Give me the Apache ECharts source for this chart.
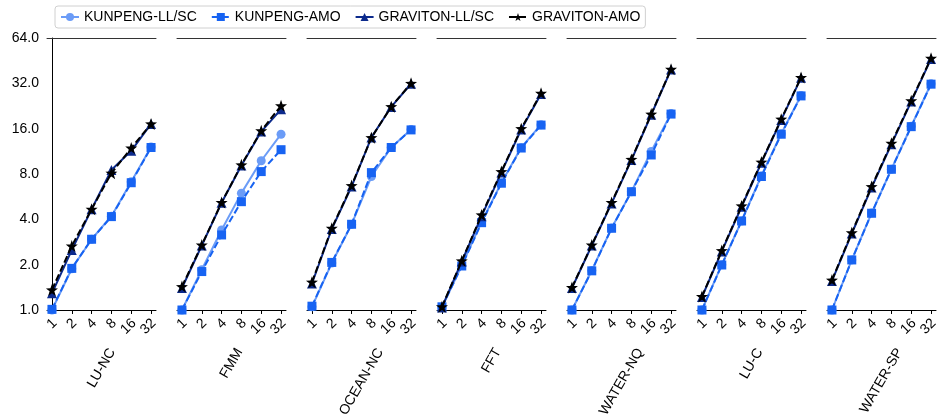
<!DOCTYPE html>
<html>
<head>
<meta charset="utf-8">
<script src="https://cdn.jsdelivr.net/npm/echarts@6/dist/echarts.min.js"></script>
<style>html,body{margin:0;padding:0;background:#fff}#c{width:938px;height:419px}</style>
</head>
<body>
<div id="c"></div>
<script>
const threads = ['1', '2', '4', '8', '16', '32'];
const benchmarks = ['LU-NC', 'FMM', 'OCEAN-NC', 'FFT', 'WATER-NQ', 'LU-C', 'WATER-SP'];
const yTicks = [1, 2, 4, 8, 16, 32, 64];
const seriesNames = ['KUNPENG-LL/SC', 'KUNPENG-AMO', 'GRAVITON-LL/SC', 'GRAVITON-AMO'];

const kunpengLlsc = [
  [1.0, 1.88, 2.95, 4.2, 7.1, 12.1],
  [1.0, 1.85, 3.4, 5.97, 9.8, 14.7],
  [1.05, 2.05, 3.7, 7.7, 12.0, 15.8],
  [1.04, 1.98, 3.85, 7.0, 12.0, 17.0],
  [1.0, 1.83, 3.5, 6.1, 11.3, 20.2],
  [1.0, 2.0, 3.9, 7.8, 14.8, 26.6],
  [1.0, 2.15, 4.4, 8.6, 16.6, 31.8]
];
const kunpengAmo = [
  [1.01, 1.89, 2.95, 4.17, 7.0, 12.0],
  [1.0, 1.8, 3.15, 5.24, 8.3, 11.6],
  [1.06, 2.07, 3.71, 8.17, 12.0, 15.7],
  [1.05, 1.96, 3.8, 6.95, 11.9, 16.9],
  [1.0, 1.82, 3.49, 6.1, 10.7, 20.0],
  [1.0, 1.99, 3.9, 7.7, 14.7, 26.4],
  [1.0, 2.15, 4.39, 8.6, 16.5, 31.6]
];
const gravitonLlsc = [
  [1.29, 2.5, 4.67, 8.5, 11.4, 17.2],
  [1.4, 2.68, 5.15, 9.1, 15.3, 21.5],
  [1.5, 3.45, 6.6, 14.0, 22.3, 31.8],
  [1.04, 2.1, 4.2, 8.2, 15.8, 27.2],
  [1.4, 2.68, 5.1, 9.9, 19.8, 39.5],
  [1.22, 2.45, 4.85, 9.5, 18.3, 34.8],
  [1.56, 3.22, 6.5, 12.6, 24.2, 46.5]
];
const gravitonAmo = [
  [1.36, 2.66, 4.67, 8.1, 11.9, 17.2],
  [1.43, 2.7, 5.17, 9.2, 15.5, 22.7],
  [1.53, 3.49, 6.7, 13.95, 22.4, 32.0],
  [1.05, 2.12, 4.28, 8.3, 16.0, 27.5],
  [1.41, 2.7, 5.17, 10.0, 20.0, 39.7],
  [1.23, 2.48, 4.91, 9.6, 18.5, 35.0],
  [1.58, 3.26, 6.6, 12.8, 24.5, 47.0]
];

const FONT = '"Liberation Sans", Arial, Helvetica, sans-serif';
const STAR = 'path://M50,0 L62,34 L98,35 L69,57 L80,92 L50,71 L20,92 L31,57 L2,35 L38,34 Z';
const styles = [
  { color: '#6b9cf7', symbol: 'circle', size: 9, type: 'solid', data: kunpengLlsc },
  { color: '#1763f2', symbol: 'rect', size: 9, type: [7, 3], data: kunpengAmo },
  { color: '#0c2a8c', symbol: 'triangle', size: 10, type: 'solid', data: gravitonLlsc },
  { color: '#000000', symbol: STAR, size: 12, type: [7, 3], data: gravitonAmo }
];

const measureCtx = document.createElement('canvas').getContext('2d');
measureCtx.font = '14px "Liberation Sans"';

const P_LEFT = 47, P_STEP = 130, P_W = 109, P_TOP = 38, P_H = 272;
const grids = [], xAxes = [], yAxes = [], series = [];
benchmarks.forEach((b, i) => {
  grids.push({ left: P_LEFT + P_STEP * i, top: P_TOP, width: P_W, height: P_H, outerBoundsMode: 'none', containLabel: false });
  const L = measureCtx.measureText(b).width;
  const gap = 36 + (0.866 * L + 0.5 * 14) / 2;
  xAxes.push({
    type: 'value', gridIndex: i, min: -0.25, max: 5.25, position: 'bottom',
    name: b, nameLocation: 'middle', nameRotate: 60, nameGap: gap, nameMoveOverlap: false,
    nameTextStyle: { fontFamily: FONT, fontSize: 14, color: '#000', align: 'center', verticalAlign: 'middle' },
    axisLine: { show: true, onZero: false, lineStyle: { color: '#000', width: 1 } },
    axisTick: { show: true, length: 4, customValues: threads.map((t, j) => j), lineStyle: { color: '#000' } },
    axisLabel: { show: true, rotate: 45, margin: 4, align: 'right', verticalAlign: 'top', padding: [0, 3, 0, 0],
      fontFamily: FONT, fontSize: 14, color: '#000',
      customValues: threads.map((t, j) => j), formatter: v => threads[Math.round(v)] },
    splitLine: { show: false }
  });
  yAxes.push({
    type: 'log', logBase: 2, gridIndex: i, min: yTicks[0], max: yTicks[yTicks.length - 1],
    axisLine: { show: i === 0, lineStyle: { color: '#000', width: 1 } },
    axisTick: { show: false },
    axisLabel: { show: i === 0, margin: 8, fontFamily: FONT, fontSize: 14, color: '#000',
      customValues: yTicks, formatter: v => Number(v).toFixed(1) },
    splitLine: { show: false }
  });
  styles.forEach((s, k) => {
    series.push({
      type: 'line', name: seriesNames[k], xAxisIndex: i, yAxisIndex: i,
      data: s.data[i].map((v, j) => [j, v]),
      symbol: s.symbol, symbolSize: s.size, showSymbol: true,
      lineStyle: { color: s.color, width: 2, type: s.type },
      itemStyle: { color: s.color },
      z: 2 + k, animation: false, silent: true
    });
  });
});
benchmarks.forEach((b, i) => {
  xAxes.push({
    type: 'value', gridIndex: i, min: -0.25, max: 5.25, position: 'top',
    axisLine: { show: true, onZero: false, lineStyle: { color: '#333', width: 1 } },
    axisTick: { show: false }, axisLabel: { show: false }, splitLine: { show: false }
  });
});

const chart = echarts.init(document.getElementById('c'), null, { renderer: 'canvas' });
chart.setOption({
  animation: false,
  backgroundColor: '#fff',
  legend: {
    data: seriesNames, left: 55, top: 6, orient: 'horizontal',
    itemWidth: 18, itemHeight: 10, itemGap: 14,
    padding: [4, 5], borderColor: '#d0d0d0', borderWidth: 1, borderRadius: 3,
    textStyle: { fontFamily: FONT, fontSize: 14, color: '#000' }
  },
  grid: grids,
  xAxis: xAxes,
  yAxis: yAxes,
  series: series
});
</script>
</body>
</html>
